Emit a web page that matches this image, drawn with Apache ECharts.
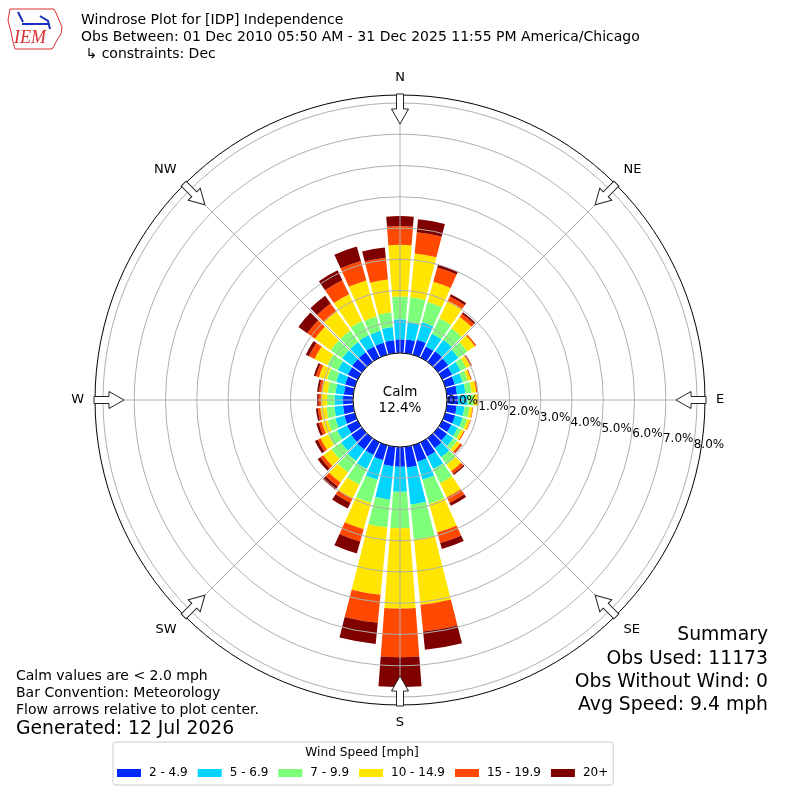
<!DOCTYPE html>
<html>
<head>
<meta charset="utf-8">
<script src="https://cdn.jsdelivr.net/npm/echarts@6/dist/echarts.min.js"></script>
<style>
html, body { margin: 0; padding: 0; background: #fff; }
#main { width: 800px; height: 800px; }
</style>
</head>
<body>
<div id="main"></div>
<script>
// wind directions, 10 degree bins, meteorology convention (from)
var directions = ['0','10','20','30','40','50','60','70','80','90','100','110','120','130','140','150','160','170',
                  '180','190','200','210','220','230','240','250','260','270','280','290','300','310','320','330','340','350'];
var speedBins = ['2 - 4.9', '5 - 6.9', '7 - 9.9', '10 - 14.9', '15 - 19.9', '20+'];
var binColors = ['#0028ff', '#00d4ff', '#7dff7a', '#ffe500', '#ff4800', '#800000'];

// percent of observations per direction and speed bin
var s1 = [0.44,0.44,0.50,0.40,0.42,0.40,0.35,0.32,0.33,0.35,0.32,0.33,0.32,0.35,0.40,0.50,0.55,0.67,
          0.63,0.63,0.50,0.45,0.45,0.42,0.38,0.35,0.33,0.32,0.30,0.32,0.35,0.38,0.38,0.40,0.40,0.42];
var s2 = [0.64,0.55,0.58,0.45,0.45,0.40,0.30,0.26,0.27,0.30,0.25,0.25,0.23,0.25,0.35,0.45,0.60,1.19,
          0.80,1.07,0.65,0.50,0.45,0.40,0.35,0.30,0.28,0.27,0.27,0.30,0.35,0.40,0.40,0.40,0.40,0.42];
var s3 = [0.73,0.81,0.67,0.55,0.45,0.35,0.20,0.17,0.20,0.20,0.16,0.15,0.13,0.15,0.30,0.50,0.80,1.12,
          1.17,0.90,0.77,0.55,0.45,0.38,0.32,0.25,0.25,0.24,0.25,0.30,0.38,0.45,0.45,0.50,0.47,0.48];
var s4 = [1.65,1.41,0.68,0.62,0.45,0.30,0.15,0.10,0.15,0.13,0.10,0.10,0.09,0.12,0.25,0.50,0.95,2.10,
          2.57,2.16,0.87,0.50,0.40,0.32,0.27,0.20,0.20,0.20,0.20,0.27,0.45,0.62,0.75,0.95,1.20,1.05];
var s5 = [0.60,0.68,0.47,0.15,0.12,0.05,0.04,0.03,0.05,0.02,0.02,0.02,0.03,0.06,0.10,0.20,0.35,0.86,
          1.56,0.90,0.41,0.15,0.15,0.12,0.10,0.10,0.08,0.07,0.08,0.10,0.20,0.30,0.32,0.50,0.65,0.70];
var s6 = [0.32,0.42,0.09,0.08,0.06,0.00,0.01,0.00,0.00,0.00,0.00,0.00,0.00,0.02,0.05,0.10,0.20,0.59,
          0.95,0.68,0.40,0.20,0.13,0.10,0.10,0.08,0.06,0.05,0.06,0.07,0.11,0.35,0.30,0.35,0.48,0.33];
var binData = [s1, s2, s3, s4, s5, s6];

var compassNames = ['N', 'NE', 'E', 'SE', 'S', 'SW', 'W', 'NW'];
var calmPct = '12.4%';

var cx = 400, cy = 400;
var rInner = 47, rOuter = 297;
var font = 'DejaVu Sans';

var dom = document.getElementById('main');
var myChart = echarts.init(dom);

// flow arrows on the rim, pointing at the center
var arrowPts = [[-3.5,-306],[3.5,-306],[3.5,-291],[8.5,-291],[0,-276],[-8.5,-291],[-3.5,-291]];
var graphics = [];
for (var k = 0; k < 8; k++) {
    graphics.push({
        type: 'polygon', x: cx, y: cy, rotation: -k * Math.PI / 4, z: 110,
        shape: { points: arrowPts },
        style: { fill: '#fff', stroke: '#222', lineWidth: 1 }
    });
}
graphics.push(
    { type: 'circle', shape: { cx: cx, cy: cy, r: 305 }, z: 100, silent: true,
      style: { fill: 'none', stroke: '#000', lineWidth: 1 } },
    { type: 'circle', shape: { cx: cx, cy: cy, r: rInner }, z: 100, silent: true,
      style: { fill: '#fff', stroke: '#000', lineWidth: 1 } },
    { type: 'text', x: cx, y: cy, z: 101,
      style: { text: 'Calm\n' + calmPct, font: '13.5px "' + font + '"', fill: '#000',
               textAlign: 'center', textVerticalAlign: 'middle', lineHeight: 16 } },
    // header
    { type: 'text', x: 81, y: 20, z: 101,
      style: { text: 'Windrose Plot for [IDP] Independence', font: '14px "' + font + '"', fill: '#000', textVerticalAlign: 'middle' } },
    { type: 'text', x: 81, y: 37, z: 101,
      style: { text: 'Obs Between: 01 Dec 2010 05:50 AM - 31 Dec 2025 11:55 PM America/Chicago', font: '14px "' + font + '"', fill: '#000', textVerticalAlign: 'middle' } },
    { type: 'text', x: 81, y: 54, z: 101,
      style: { text: ' \u21b3 constraints: Dec', font: '14px "' + font + '"', fill: '#000', textVerticalAlign: 'middle' } },
    // IEM logo, rough
    { type: 'polygon', z: 101,
      shape: { points: [[10,9],[54,9],[56,13],[59,20],[62,27],[61,34],[57,40],[54,46],[52,49],[15,49],[13,42],[11,32],[8,20]] },
      style: { fill: 'none', stroke: '#d43030', lineWidth: 1 } },
    { type: 'polyline', z: 101, shape: { points: [[22,24],[48,24]] }, style: { stroke: '#1a2ec0', lineWidth: 2 } },
    { type: 'polyline', z: 101, shape: { points: [[18,12],[23,22]] }, style: { stroke: '#1a2ec0', lineWidth: 2 } },
    { type: 'polyline', z: 101, shape: { points: [[40,16],[48,21],[50,29]] }, style: { stroke: '#1a2ec0', lineWidth: 2 } },
    { type: 'text', x: 14, y: 38, z: 101,
      style: { text: 'IEM', font: 'italic 18px "Liberation Serif"', fill: '#d43030', textVerticalAlign: 'middle' } },
    // notes bottom left
    { type: 'text', x: 16, y: 676, z: 101,
      style: { text: 'Calm values are < 2.0 mph', font: '14px "' + font + '"', fill: '#000', textVerticalAlign: 'middle' } },
    { type: 'text', x: 16, y: 693, z: 101,
      style: { text: 'Bar Convention: Meteorology', font: '14px "' + font + '"', fill: '#000', textVerticalAlign: 'middle' } },
    { type: 'text', x: 16, y: 710, z: 101,
      style: { text: 'Flow arrows relative to plot center.', font: '14px "' + font + '"', fill: '#000', textVerticalAlign: 'middle' } },
    { type: 'text', x: 16, y: 729, z: 101,
      style: { text: 'Generated: 12 Jul 2026', font: '18.8px "' + font + '"', fill: '#000', textVerticalAlign: 'middle' } },
    // summary bottom right
    { type: 'text', x: 768, y: 635, z: 101,
      style: { text: 'Summary', font: '18.8px "' + font + '"', fill: '#000', textAlign: 'right', textVerticalAlign: 'middle' } },
    { type: 'text', x: 768, y: 659, z: 101,
      style: { text: 'Obs Used: 11173', font: '18.8px "' + font + '"', fill: '#000', textAlign: 'right', textVerticalAlign: 'middle' } },
    { type: 'text', x: 768, y: 682, z: 101,
      style: { text: 'Obs Without Wind: 0', font: '18.8px "' + font + '"', fill: '#000', textAlign: 'right', textVerticalAlign: 'middle' } },
    { type: 'text', x: 768, y: 705, z: 101,
      style: { text: 'Avg Speed: 9.4 mph', font: '18.8px "' + font + '"', fill: '#000', textAlign: 'right', textVerticalAlign: 'middle' } },
    // legend title
    { type: 'text', x: 362, y: 753, z: 101,
      style: { text: 'Wind Speed [mph]', font: '12.2px "' + font + '"', fill: '#000', textAlign: 'center', textVerticalAlign: 'middle' } }
);

var series = [];
for (var i = 0; i < speedBins.length; i++) {
    series.push({
        name: speedBins[i],
        type: 'bar',
        coordinateSystem: 'polar',
        polarIndex: 0,
        stack: 'speed',
        barCategoryGap: '14%',
        itemStyle: { color: binColors[i] },
        data: binData[i]
    });
}

option = {
    animation: false,
    backgroundColor: '#fff',
    textStyle: { fontFamily: font },
    polar: [
        { center: [cx, cy], radius: [rInner, rOuter] },
        { center: [cx, cy], radius: [rInner, rOuter] },
        { center: [cx, cy], radius: [rInner, rOuter] }
    ],
    angleAxis: [
        {
            polarIndex: 0, type: 'category', data: directions, startAngle: 95, clockwise: true,
            axisLine: { show: false }, axisTick: { show: false }, axisLabel: { show: false }, splitLine: { show: false }
        },
        {
            polarIndex: 1, type: 'value', min: 0, max: 360, interval: 45, startAngle: 90, clockwise: true, z: 5,
            axisLine: { show: false }, axisTick: { show: false },
            axisLabel: {
                margin: 19, color: '#000', fontSize: 13, fontFamily: font,
                align: 'center', verticalAlign: 'middle',
                formatter: function (v) { return compassNames[Math.round(v / 45) % 8]; }
            },
            splitLine: { show: true, lineStyle: { color: '#b0b0b0', width: 1 } }
        },
        {
            polarIndex: 2, type: 'value', min: 0, max: 360, startAngle: -10, show: false
        }
    ],
    radiusAxis: [
        {
            polarIndex: 0, min: 0, max: 8, show: false
        },
        {
            polarIndex: 1, min: 0, max: 8, interval: 1, z: 5,
            axisLine: { show: false }, axisTick: { show: false }, axisLabel: { show: false },
            splitLine: { show: true, lineStyle: { color: '#b0b0b0', width: 1 } }
        },
        {
            polarIndex: 2, min: 0, max: 8, interval: 1, z: 6,
            axisLine: { show: false }, axisTick: { show: false }, splitLine: { show: false },
            axisLabel: {
                color: '#000', fontSize: 12, fontFamily: font, margin: 7, interval: 0,
                showMinLabel: true, showMaxLabel: true, hideOverlap: false,
                formatter: function (v) { return v.toFixed(1) + '%'; }
            }
        }
    ],
    legend: {
        data: speedBins,
        left: 113, top: 742,
        padding: [25, 5, 6, 4],
        itemGap: 10, itemWidth: 24, itemHeight: 8,
        icon: 'rect',
        borderColor: '#cccccc', borderWidth: 1, borderRadius: 3,
        textStyle: { fontSize: 12, fontFamily: font, color: '#000', padding: [0, 0, 0, 3] }
    },
    graphic: graphics,
    series: series
};

myChart.setOption(option);
</script>
</body>
</html>
